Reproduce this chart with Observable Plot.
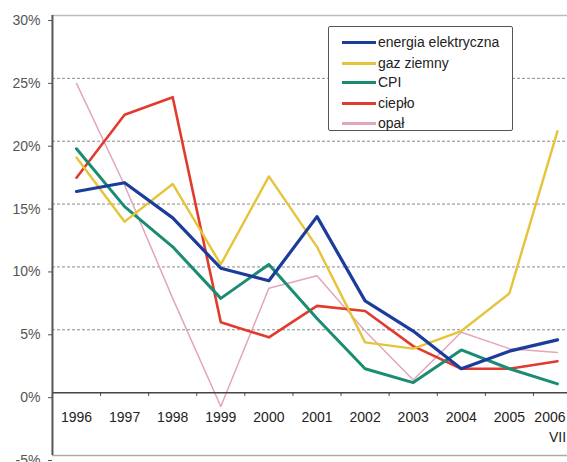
<!DOCTYPE html>
<html><head><meta charset="utf-8">
<script src="https://cdn.jsdelivr.net/npm/d3@7"></script>
<script src="https://cdn.jsdelivr.net/npm/@observablehq/plot@0.6"></script>
<style>
body{margin:0;background:#fff;font-family:"Liberation Sans",Arial,sans-serif;}
#wrap{position:relative;width:567px;height:462px;overflow:hidden;}
#legend{position:absolute;left:328px;top:26px;width:185px;height:105px;border:1px solid #555;background:#fff;box-sizing:border-box;border-radius:2px;}
.row{position:absolute;left:13px;height:20px;display:flex;align-items:center;font-size:14px;color:#222;white-space:nowrap;}
.sw{width:34px;height:3px;margin-right:2px;}
</style></head><body><div id="wrap"><div id="legend"></div></div>
<script>
const years = [1996,1997,1998,1999,2000,2001,2002,2003,2004,2005,2006];
const energia = [16.0,16.7,13.9,9.9,8.9,14.0,7.3,4.9,1.9,3.3,4.2];
const gaz     = [18.7,13.6,16.6,10.2,17.2,11.6,4.0,3.5,4.9,7.9,20.8];
const cpi     = [19.4,14.8,11.6,7.5,10.2,5.9,1.9,0.8,3.4,1.9,0.7];
const cieplo  = [17.1,22.1,23.5,5.6,4.4,6.9,6.5,3.7,1.9,1.9,2.5];
const opal    = [24.6,16.5,7.5,-1.1,8.3,9.3,4.9,1.0,4.8,3.5,3.2];
const seriesNames = ["energia elektryczna","gaz ziemny","CPI","ciepło","opał"];
const seriesColors = ["#1c3c9c","#e6c43a","#1b8c74","#e03b2e","#e2a6b8"];
const seriesValues = [energia,gaz,cpi,cieplo,opal];
const seriesWidths = [3.2,2.4,3,2.6,1.5];
const yTicks = [-5,0,5,10,15,20,25,30];
const subLabel = "VII";

const mids = years.slice(0,-1).map(y => y + 0.5);
const lineMarks = [];
for (let i = seriesNames.length - 1; i >= 0; i--) {
  const vals = seriesValues[i];
  lineMarks.push(Plot.line(vals, {x: years, y: d => d, stroke: seriesColors[i], strokeWidth: seriesWidths[i], strokeLinejoin: "round", strokeLinecap: "round"}));
}

const chart = Plot.plot({
  width: 567, height: 462,
  marginLeft: 52, marginRight: 0, marginTop: 15, marginBottom: 7,
  style: {fontFamily: '"Liberation Sans", Arial, sans-serif', fontSize: "14px", background: "#fff"},
  x: {type: "linear", domain: [years[0], years[years.length-1]], range: [76, 557], axis: null},
  y: {domain: [-5, 30], axis: null},
  marks: [
    Plot.ruleY([30], {stroke: "#bbb", strokeWidth: 1.5}),
    Plot.ruleY(yTicks.filter(t => t > 0 && t < 30), {stroke: "#8a8a8a", strokeDasharray: "3,2", strokeWidth: 1}),
    Plot.ruleY([-5], {stroke: "#aaa", strokeWidth: 1.5}),
    Plot.axisY({ticks: yTicks, tickFormat: d => d + "%", tickSize: 4, tickPadding: 8, color: "#555", fontSize: 14, dy: 5, label: null, anchor: "left"}),
    ...lineMarks,
    Plot.ruleY([0], {stroke: "#444", strokeWidth: 1.5}),
    Plot.ruleX(mids, {y1: 0, y2: -0.3, stroke: "#444"}),
    Plot.ruleX([years[0] - 0.5], {y1: -5, y2: 30, stroke: "#555", strokeWidth: 2}),
    Plot.text(years.slice(0,-1), {x: d => d, y: 0, dy: 25, text: d => String(d), fill: "#222", fontSize: 14}),
    Plot.text(years.slice(-1), {x: d => d, y: 0, dy: 25, dx: 8, textAnchor: "end", text: d => String(d), fill: "#222", fontSize: 14}),
    Plot.text([subLabel], {x: years[years.length-1], y: 0, dy: 45, text: d => d, fill: "#222", fontSize: 14})
  ]
});
const wrap = document.getElementById("wrap");
wrap.insertBefore(chart, wrap.firstChild);

const legend = document.getElementById("legend");
const rowTops = [5, 26, 45, 66, 86];
seriesNames.forEach((n, i) => {
  const r = document.createElement("div");
  r.className = "row";
  r.style.top = rowTops[i] + "px";
  const sw = document.createElement("div");
  sw.className = "sw";
  sw.style.background = seriesColors[i];
  r.appendChild(sw);
  const t = document.createElement("span");
  t.textContent = n;
  r.appendChild(t);
  legend.appendChild(r);
});
</script></body></html>
